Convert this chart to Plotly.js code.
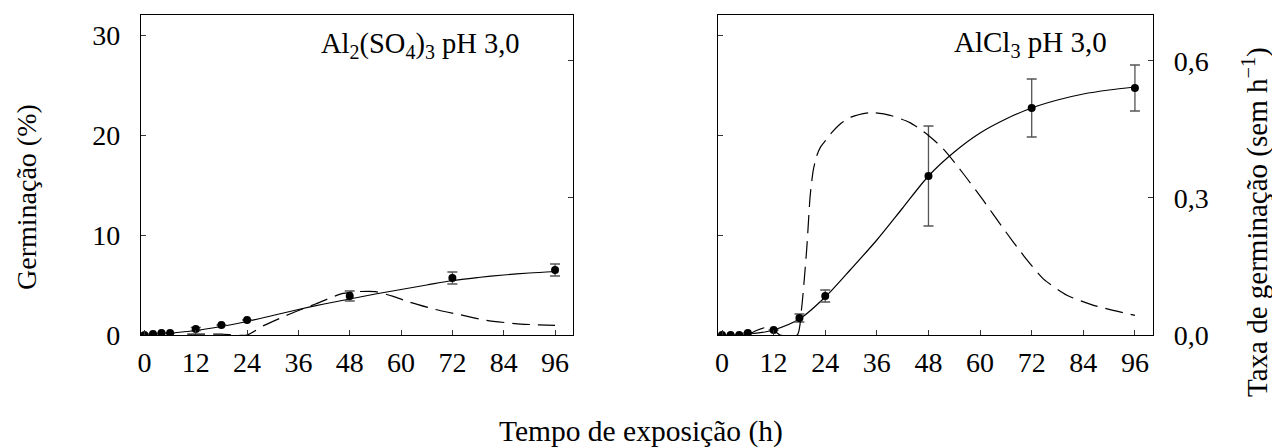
<!DOCTYPE html>
<html>
<head>
<meta charset="utf-8">
<script src="https://cdn.plot.ly/plotly-3.0.1.min.js"></script>
<style>
  html, body { margin: 0; padding: 0; background: #fff; }
  #chart { width: 1272px; height: 448px; }
</style>
</head>
<body>
<div id="chart"></div>
<script>
// Sampling times (h) of the observed germination
const obsTime = [0, 2, 4, 6, 12, 18, 24, 48, 72, 96];

// Al2(SO4)3 pH 3,0 — observed germination (%) and standard error
const sulfGerm = [0, 0.1, 0.2, 0.2, 0.6, 1.0, 1.5, 3.9, 5.7, 6.5];
const sulfErr  = [0, 0, 0, 0, 0.15, 0, 0, 0.5, 0.6, 0.6];
// fitted germination curve
const sulfFitTime = [0, 6, 12, 18, 24, 30, 36, 42, 48, 54, 60, 66, 72, 78, 84, 90, 96];
const sulfFitGerm = [0.05, 0.2, 0.45, 0.85, 1.35, 1.95, 2.55, 3.1, 3.6, 4.1, 4.55, 5.0, 5.45, 5.75, 6.0, 6.2, 6.35];
// germination rate (sem h^-1)
const sulfRateTime = [10, 14, 18, 24, 28, 34, 40, 46, 50, 54, 58, 62, 68, 74, 80, 88, 96];
const sulfRate     = [0.002, 0.002, 0.002, 0, 0.021, 0.046, 0.068, 0.09, 0.095, 0.095, 0.085, 0.072, 0.056, 0.044, 0.032, 0.024, 0.021];

// AlCl3 pH 3,0 — observed germination (%) and standard error
const chlGerm = [0, 0, 0, 0.2, 0.5, 1.7, 3.9, 15.9, 22.7, 24.7];
const chlErr  = [0, 0, 0, 0, 0, 0.4, 0.6, 5.0, 2.9, 2.3];
// fitted germination curve
const chlFitTime = [0, 6, 10, 12, 18, 24, 30, 36, 42, 48, 54, 60, 66, 72, 78, 84, 90, 96];
const chlFitGerm = [0, 0.1, 0.3, 0.5, 1.6, 3.8, 6.6, 9.5, 12.7, 15.9, 18.3, 20.2, 21.6, 22.7, 23.5, 24.1, 24.5, 24.8];
// germination rate (sem h^-1)
const chlRateTime = [6, 8, 10, 12, 13.5, 17.5, 18.5, 19.7, 20.5, 21.2, 22, 23, 24, 25.5, 27.5, 30, 34.4, 39.1, 43.7, 47.6, 51.5, 56.2, 60.8, 65.5, 70.1, 74.7, 80.2, 86.4, 96];
const chlRate     = [0, 0.010, 0.016, 0.010, 0, 0, 0.058, 0.189, 0.305, 0.36, 0.392, 0.413, 0.425, 0.443, 0.462, 0.477, 0.487, 0.481, 0.465, 0.44, 0.407, 0.352, 0.294, 0.232, 0.174, 0.123, 0.087, 0.065, 0.043];

// Axis ticks
const timeTicks = [0, 12, 24, 36, 48, 60, 72, 84, 96];
const germTicks = [0, 10, 20, 30];
const rateTicks = [0, 0.3, 0.6];

const FONT = 'Liberation Serif';
const INK = '#000';
const BAR = '#555';

function observed(x, y, err, xa, ya) {
  return {
    x: x, y: y, xaxis: xa, yaxis: ya, type: 'scatter', mode: 'markers',
    marker: { color: INK, size: 8 },
    error_y: { type: 'data', array: err, visible: true, color: BAR, thickness: 1.3, width: 5 },
    hoverinfo: 'skip'
  };
}
function fitted(x, y, xa, ya) {
  return {
    x: x, y: y, xaxis: xa, yaxis: ya, type: 'scatter', mode: 'lines',
    line: { color: INK, width: 1.2, shape: 'spline', smoothing: 0.8 },
    hoverinfo: 'skip'
  };
}
function rate(x, y, xa, ya) {
  return {
    x: x, y: y, xaxis: xa, yaxis: ya, type: 'scatter', mode: 'lines',
    line: { color: INK, width: 1.2, dash: '18px,8px', shape: 'spline', smoothing: 0.6 },
    hoverinfo: 'skip'
  };
}

const data = [
  rate(sulfRateTime, sulfRate, 'x', 'y2'),
  fitted(sulfFitTime, sulfFitGerm, 'x', 'y'),
  observed(obsTime, sulfGerm, sulfErr, 'x', 'y'),
  rate(chlRateTime, chlRate, 'x2', 'y4'),
  fitted(chlFitTime, chlFitGerm, 'x2', 'y3'),
  observed(obsTime, chlGerm, chlErr, 'x2', 'y3')
];

const W = 1272, H = 448;
const px = v => v / W;
const py = v => 1 - v / H;
const yDom = [py(335), py(15)];

const tickFont = { family: FONT, size: 28, color: INK };
const baseAxis = {
  showline: true, linecolor: INK, linewidth: 1.2,
  ticks: 'inside', ticklen: 5, tickwidth: 1, tickcolor: '#333',
  showgrid: false, zeroline: false, tickfont: tickFont, fixedrange: true
};
const xAxis = (dom, range) => Object.assign({}, baseAxis, {
  domain: dom, range: range, tickmode: 'array', tickvals: timeTicks,
  ticktext: timeTicks.map(String), mirror: true, ticklabelstandoff: 2
});
const germAxis = (anchor, labels) => Object.assign({}, baseAxis, {
  domain: yDom, range: [0, 32], anchor: anchor, side: 'left',
  tickmode: 'array', tickvals: germTicks, ticktext: germTicks.map(String),
  showticklabels: labels, ticklabelstandoff: 14
});
const rateAxis = (anchor, overlay, labels) => Object.assign({}, baseAxis, {
  domain: yDom, range: [0, 0.7007], anchor: anchor, side: 'right', overlaying: overlay,
  tickmode: 'array', tickvals: rateTicks, tickformat: '.1f',
  showticklabels: labels, ticklabelstandoff: 14
});

const layout = {
  width: W, height: H,
  margin: { l: 0, r: 0, t: 0, b: 0 },
  paper_bgcolor: '#fff', plot_bgcolor: '#fff',
  showlegend: false,
  separators: ',.',
  font: { family: FONT, color: INK },
  xaxis: xAxis([px(141), px(573)], [-0.8, 100.2]),
  yaxis: germAxis('x', true),
  yaxis2: rateAxis('x', 'y', false),
  xaxis2: xAxis([px(718), px(1153)], [-0.93, 100.2]),
  yaxis3: germAxis('x2', false),
  yaxis4: rateAxis('x2', 'y3', true),
  annotations: [
    { text: 'Al<sub>2</sub>(SO<sub>4</sub>)<sub>3</sub> pH 3,0', xref: 'paper', yref: 'paper',
      x: px(420), y: py(45), xanchor: 'center', yanchor: 'middle', showarrow: false,
      font: { family: FONT, size: 28.5, color: INK } },
    { text: 'AlCl<sub>3</sub> pH 3,0', xref: 'paper', yref: 'paper',
      x: px(1030), y: py(44), xanchor: 'center', yanchor: 'middle', showarrow: false,
      font: { family: FONT, size: 29, color: INK } },
    { text: 'Germinação (%)', xref: 'paper', yref: 'paper', textangle: -90,
      x: px(27), y: py(197), xanchor: 'center', yanchor: 'middle', showarrow: false,
      font: { family: FONT, size: 28, color: INK } },
    { text: 'Taxa de germinação (sem h<sup>−1</sup>)', xref: 'paper', yref: 'paper', textangle: -90,
      x: px(1255), y: py(222), xanchor: 'center', yanchor: 'middle', showarrow: false,
      font: { family: FONT, size: 29, color: INK } },
    { text: 'Tempo de exposição (h)', xref: 'paper', yref: 'paper',
      x: px(641), y: py(431), xanchor: 'center', yanchor: 'middle', showarrow: false,
      font: { family: FONT, size: 29.5, color: INK } }
  ]
};

Plotly.newPlot('chart', data, layout, { staticPlot: true, displayModeBar: false });
</script>
</body>
</html>
